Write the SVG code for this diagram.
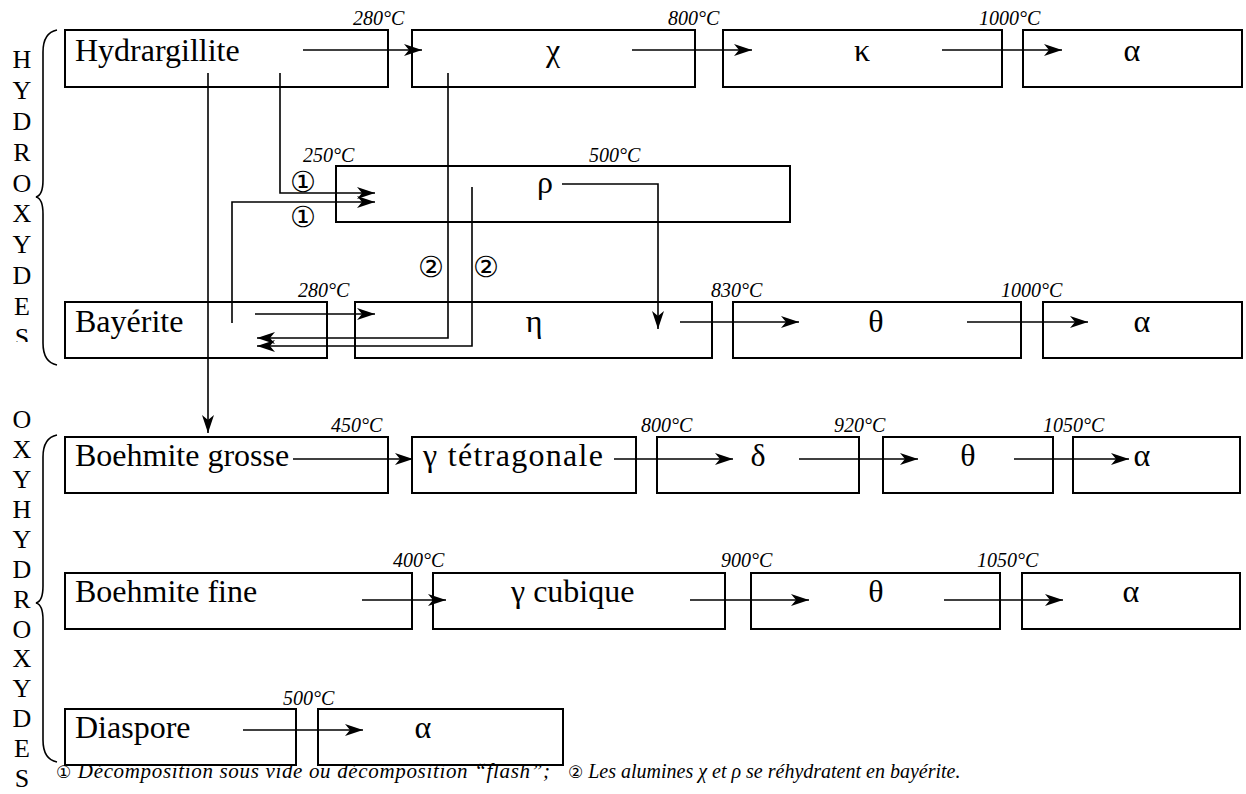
<svg xmlns="http://www.w3.org/2000/svg" width="1246" height="794" viewBox="0 0 1246 794">
<style>
.box{fill:none;stroke:#000;stroke-width:2}
.lbl{font-family:"Liberation Serif","Times New Roman",serif;font-size:32px;fill:#000}
.mid{text-anchor:middle}
.tmp{font-family:"Liberation Serif","Times New Roman",serif;font-style:italic;font-size:20px;fill:#000}
.side{font-family:"Liberation Serif","Times New Roman",serif;font-size:26px;fill:#000;text-anchor:middle}
.circ{font-family:"DejaVu Sans",sans-serif;font-size:29px;fill:#000;text-anchor:middle}
.fn{font-family:"Liberation Serif","Times New Roman",serif;font-style:italic;font-size:21px;fill:#000}
.fn2{font-size:20px}
.fnc{font-family:"DejaVu Sans",sans-serif;font-style:normal;font-size:17px}
.conn path{fill:none;stroke:#000;stroke-width:1.6;marker-end:url(#ah)}
.brace{fill:none;stroke:#000;stroke-width:1.6}
</style>
<defs>
<marker id="ah" markerUnits="userSpaceOnUse" markerWidth="20" markerHeight="14" refX="18" refY="6" orient="auto">
<path d="M0,0 L18,6 L0,12 L5,6 z" fill="#000"/>
</marker>
<clipPath id="clipH"><rect x="0" y="30" width="40" height="312"/></clipPath>
</defs>

<g id="side-labels">
<g clip-path="url(#clipH)">
<text class="side" x="22" y="68">H</text>
<text class="side" x="22" y="99">Y</text>
<text class="side" x="22" y="130">D</text>
<text class="side" x="22" y="161">R</text>
<text class="side" x="22" y="192">O</text>
<text class="side" x="22" y="222">X</text>
<text class="side" x="22" y="253">Y</text>
<text class="side" x="22" y="284">D</text>
<text class="side" x="22" y="315">E</text>
<text class="side" x="22" y="346">S</text>
</g>
<text class="side" x="22" y="428">O</text>
<text class="side" x="22" y="458">X</text>
<text class="side" x="22" y="488">Y</text>
<text class="side" x="22" y="518">H</text>
<text class="side" x="22" y="548">Y</text>
<text class="side" x="22" y="578">D</text>
<text class="side" x="22" y="608">R</text>
<text class="side" x="22" y="638">O</text>
<text class="side" x="22" y="667">X</text>
<text class="side" x="22" y="697">Y</text>
<text class="side" x="22" y="727">D</text>
<text class="side" x="22" y="757">E</text>
<text class="side" x="22" y="787">S</text>
<path class="brace" d="M57,30 C47,32 43,40 43,52 L43,180 C43,191 40,196 36,197 C40,198 43,203 43,214 L43,343 C43,355 47,363 57,365"/>
<path class="brace" d="M57,435 C47,437 43,445 43,457 L43,586 C43,597 40,602 36,603 C40,604 43,609 43,620 L43,740 C43,752 47,760 57,762"/>
</g>

<g id="n-hydrargillite"><rect class="box" x="65" y="30" width="323" height="57"/><text class="lbl" x="75" y="61">Hydrargillite</text></g>
<g id="n-chi"><rect class="box" x="412" y="30" width="283" height="57"/><text class="lbl mid" x="553" y="61">χ</text></g>
<g id="n-kappa"><rect class="box" x="723" y="30" width="279" height="57"/><text class="lbl mid" x="862" y="61">κ</text></g>
<g id="n-alpha1"><rect class="box" x="1023" y="30" width="219" height="57"/><text class="lbl mid" x="1132" y="61">α</text></g>

<g id="n-rho"><rect class="box" x="336" y="166" width="454" height="56"/><text class="lbl mid" x="545" y="193">ρ</text></g>

<g id="n-bayerite"><rect class="box" x="65" y="302" width="262" height="56"/><text class="lbl" x="75" y="332">Bayérite</text></g>
<g id="n-eta"><rect class="box" x="355" y="302" width="357" height="56"/><text class="lbl mid" x="534" y="332">η</text></g>
<g id="n-theta1"><rect class="box" x="733" y="302" width="288" height="56"/><text class="lbl mid" x="876" y="332">θ</text></g>
<g id="n-alpha2"><rect class="box" x="1043" y="302" width="199" height="56"/><text class="lbl mid" x="1142" y="332">α</text></g>

<g id="n-boehmite-grosse"><rect class="box" x="65" y="437" width="323" height="56"/><text class="lbl" x="75" y="466">Boehmite grosse</text></g>
<g id="n-gamma-tet"><rect class="box" x="412" y="437" width="224" height="56"/><text class="lbl" x="423" y="466" textLength="180">γ tétragonale</text></g>
<g id="n-delta"><rect class="box" x="657" y="437" width="202" height="56"/><text class="lbl mid" x="758" y="466">δ</text></g>
<g id="n-theta2"><rect class="box" x="883" y="437" width="170" height="56"/><text class="lbl mid" x="968" y="466">θ</text></g>
<g id="n-alpha3"><rect class="box" x="1073" y="437" width="167" height="56"/><text class="lbl mid" x="1142" y="466">α</text></g>

<g id="n-boehmite-fine"><rect class="box" x="65" y="573" width="347" height="56"/><text class="lbl" x="75" y="602">Boehmite fine</text></g>
<g id="n-gamma-cub"><rect class="box" x="433" y="573" width="292" height="56"/><text class="lbl" x="511" y="602">γ cubique</text></g>
<g id="n-theta3"><rect class="box" x="751" y="573" width="249" height="56"/><text class="lbl mid" x="876" y="602">θ</text></g>
<g id="n-alpha4"><rect class="box" x="1022" y="573" width="218" height="56"/><text class="lbl mid" x="1131" y="602">α</text></g>

<g id="n-diaspore"><rect class="box" x="65" y="709" width="231" height="56"/><text class="lbl" x="75" y="738">Diaspore</text></g>
<g id="n-alpha5"><rect class="box" x="318" y="709" width="245" height="56"/><text class="lbl mid" x="423" y="738">α</text></g>

<g class="conn" id="connectors">
<path d="M303,50 H422"/>
<path d="M632,50 H752"/>
<path d="M942,50 H1062"/>
<path d="M280,73 V193 H375"/>
<path d="M232,323 V202 H375"/>
<path d="M208,73 V433"/>
<path d="M448,73 V338 H257"/>
<path d="M472,187 V346 H257"/>
<path d="M562,184 H658 V329"/>
<path d="M255,314 H375"/>
<path d="M680,322 H799"/>
<path d="M967,322 H1088"/>
<path d="M293,459 H413"/>
<path d="M614,459 H733"/>
<path d="M799,459 H918"/>
<path d="M1014,459 H1129"/>
<path d="M362,600 H446"/>
<path d="M690,600 H809"/>
<path d="M944,600 H1063"/>
<path d="M243,730 H363"/>
</g>

<g id="connector-labels">
<text class="tmp" x="353" y="25">280°C</text>
<text class="tmp" x="668" y="25">800°C</text>
<text class="tmp" x="979" y="25">1000°C</text>
<text class="tmp" x="303" y="162">250°C</text>
<text class="tmp" x="589" y="162">500°C</text>
<text class="tmp" x="298" y="297">280°C</text>
<text class="tmp" x="711" y="297">830°C</text>
<text class="tmp" x="1001" y="297">1000°C</text>
<text class="tmp" x="331" y="432">450°C</text>
<text class="tmp" x="641" y="432">800°C</text>
<text class="tmp" x="834" y="432">920°C</text>
<text class="tmp" x="1043" y="432">1050°C</text>
<text class="tmp" x="393" y="567">400°C</text>
<text class="tmp" x="721" y="567">900°C</text>
<text class="tmp" x="977" y="567">1050°C</text>
<text class="tmp" x="283" y="705">500°C</text>
<text class="circ" x="303" y="192">①</text>
<text class="circ" x="303" y="227">①</text>
<text class="circ" x="431" y="277">②</text>
<text class="circ" x="486" y="277">②</text>
</g>

<g id="footnote">
<text class="fn" x="56" y="778" textLength="494"><tspan class="fnc">①</tspan> Décomposition sous vide ou décomposition “flash”;</text>
<text class="fn fn2" x="568" y="778"><tspan class="fnc">②</tspan> Les alumines χ et ρ se réhydratent en bayérite.</text>
</g>
</svg>
